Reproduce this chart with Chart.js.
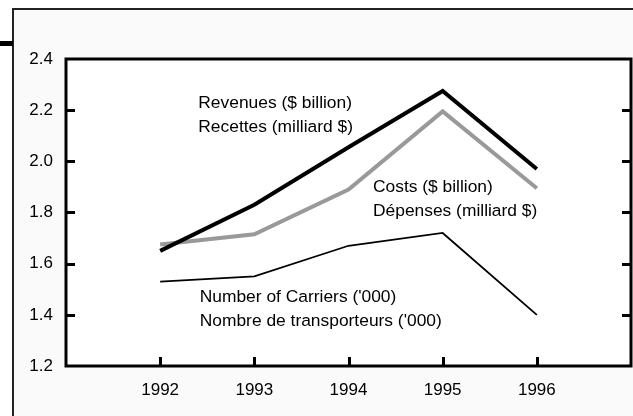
<!DOCTYPE html>
<html><head><meta charset="utf-8">
<script src="https://cdn.jsdelivr.net/npm/chart.js@4"></script>
<style>html,body{margin:0;padding:0;background:#fff;overflow:hidden}#wrap{width:633px;height:416px;position:relative}</style>
</head><body><div id="wrap"><canvas id="c"></canvas></div>
<script>
const years = ['1992', '1993', '1994', '1995', '1996'];
const revenues = [1.65, 1.83, 2.055, 2.275, 1.97];
const costs = [1.675, 1.715, 1.89, 2.195, 1.895];
const carriers = [1.53, 1.55, 1.67, 1.72, 1.40];
const yTicks = [1.2, 1.4, 1.6, 1.8, 2.0, 2.2, 2.4];
const revenueLabel = ['Revenues ($ billion)', 'Recettes (milliard $)'];
const costLabel = ['Costs ($ billion)', 'Dépenses (milliard $)'];
const carrierLabel = ["Number of Carriers ('000)", "Nombre de transporteurs ('000)"];

const FONT = "'Liberation Sans', Arial, Helvetica, sans-serif";
Chart.defaults.font.family = FONT;
Chart.defaults.font.size = 17;
Chart.defaults.color = '#000';

const pts = arr => arr.map((v, i) => ({x: Number(years[i]), y: v}));
const xMin = Number(years[0]) - 1, xMax = Number(years[years.length - 1]) + 1;

// annotation anchors (x in years, y in value units of the first line)
const notes = [
  {lines: revenueLabel, x: 1992.405, y: 2.228},
  {lines: costLabel, x: 1994.26, y: 1.900},
  {lines: carrierLabel, x: 1992.42, y: 1.470}
];

const decor = {
  id: 'decor',
  beforeDraw(chart) {
    const ctx = chart.ctx, a = chart.chartArea;
    ctx.save();
    ctx.fillStyle = '#fafafa';
    ctx.fillRect(13, 9, 700, 500);
    ctx.strokeStyle = '#222';
    ctx.lineWidth = 2;
    ctx.strokeRect(13, 9, 700, 500);
    ctx.fillStyle = '#000';
    ctx.fillRect(0, 41, 13, 5);
    ctx.fillStyle = '#fff';
    ctx.fillRect(a.left, a.top, a.right - a.left, a.bottom - a.top);
    ctx.restore();
  },
  afterDraw(chart) {
    const ctx = chart.ctx, a = chart.chartArea;
    const xs = chart.scales.x, ys = chart.scales.y;
    ctx.save();
    ctx.strokeStyle = '#000';
    ctx.lineWidth = 3;
    ctx.beginPath();
    yTicks.slice(1, -1).forEach(v => {
      const py = Math.round(ys.getPixelForValue(v)) + 0.5;
      ctx.moveTo(a.left, py); ctx.lineTo(a.left + 9, py);
      ctx.moveTo(a.right, py); ctx.lineTo(a.right - 9, py);
    });
    years.forEach(y => {
      const px = Math.round(xs.getPixelForValue(Number(y))) + 0.5;
      ctx.moveTo(px, a.bottom); ctx.lineTo(px, a.bottom - 9);
    });
    ctx.stroke();
    ctx.strokeRect(a.left, a.top, a.right - a.left, a.bottom - a.top);
    ctx.fillStyle = '#000';
    ctx.font = '17.4px ' + FONT;
    ctx.textBaseline = 'middle';
    ctx.textAlign = 'left';
    notes.forEach(n => {
      const px = xs.getPixelForValue(n.x), py = ys.getPixelForValue(n.y);
      n.lines.forEach((t, i) => ctx.fillText(t, px, py + i * 24));
    });
    ctx.restore();
  }
};

new Chart(document.getElementById('c'), {
  type: 'line',
  data: {
    datasets: [
      {label: 'Revenues', data: pts(revenues), borderColor: '#000', borderWidth: 4},
      {label: 'Costs', data: pts(costs), borderColor: '#999', borderWidth: 4},
      {label: 'Carriers', data: pts(carriers), borderColor: '#000', borderWidth: 1.8}
    ]
  },
  options: {
    responsive: true,
    maintainAspectRatio: false,
    animation: false,
    events: [],
    layout: {padding: {top: 59, right: 2, bottom: 0, left: 0}},
    elements: {
      point: {radius: 0},
      line: {tension: 0, borderJoinStyle: 'miter', borderCapStyle: 'butt', fill: false}
    },
    plugins: {legend: {display: false}, tooltip: {enabled: false}},
    scales: {
      x: {
        type: 'linear', min: xMin, max: xMax,
        grid: {display: false, drawTicks: false},
        border: {display: false},
        afterFit: s => { s.height = 50; s.paddingLeft = 0; s.paddingRight = 0; },
        afterBuildTicks: s => { s.ticks = []; for (let v = xMin; v <= xMax; v++) s.ticks.push({value: v}); },
        ticks: {
          padding: 14, autoSkip: false, maxRotation: 0,
          callback: v => years.includes(String(v)) ? String(v) : ''
        }
      },
      y: {
        min: yTicks[0], max: yTicks[yTicks.length - 1],
        grid: {display: false, drawTicks: false},
        border: {display: false},
        afterFit: s => { s.width = 66; s.paddingTop = 0; s.paddingBottom = 0; },
        afterBuildTicks: s => { s.ticks = yTicks.map(v => ({value: v})); },
        ticks: {padding: 13, callback: v => v.toFixed(1)}
      }
    }
  },
  plugins: [decor]
});
</script></body></html>
